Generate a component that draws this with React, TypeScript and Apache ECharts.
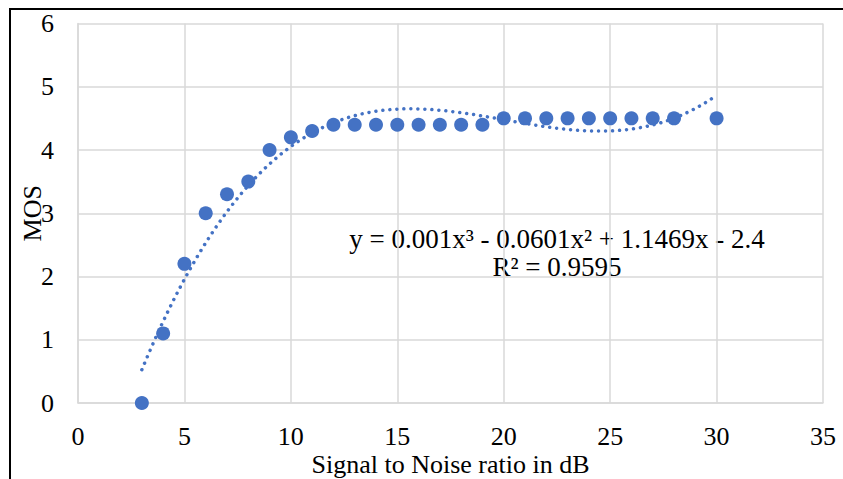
import React, { useEffect, useRef } from "react";
import * as echarts from "echarts";

const snrDb = [3, 4, 5, 6, 7, 8, 9, 10, 11, 12, 13, 14, 15, 16, 17, 18, 19, 20, 21, 22, 23, 24, 25, 26, 27, 28, 30];
const mos = [0, 1.1, 2.2, 3.0, 3.3, 3.5, 4.0, 4.2, 4.3, 4.4, 4.4, 4.4, 4.4, 4.4, 4.4, 4.4, 4.4, 4.5, 4.5, 4.5, 4.5, 4.5, 4.5, 4.5, 4.5, 4.5, 4.5];
const equationText = "y = 0.001x³ - 0.0601x² + 1.1469x - 2.4";
const r2Text = "R² = 0.9595";
const xAxisTitle = "Signal to Noise ratio in dB";
const yAxisTitle = "MOS";

// least squares cubic fit (the chart's trendline), computed from the data
function polyFit(xs: number[], ys: number[], deg: number): number[] {
  const n = deg + 1;
  const A: number[][] = Array.from({ length: n }, () => new Array(n + 1).fill(0));
  for (let i = 0; i < xs.length; i++) {
    for (let r = 0; r < n; r++) {
      for (let c = 0; c < n; c++) A[r][c] += Math.pow(xs[i], r + c);
      A[r][n] += ys[i] * Math.pow(xs[i], r);
    }
  }
  for (let p = 0; p < n; p++) {
    let m = p;
    for (let r = p + 1; r < n; r++) if (Math.abs(A[r][p]) > Math.abs(A[m][p])) m = r;
    [A[p], A[m]] = [A[m], A[p]];
    for (let r = 0; r < n; r++) {
      if (r === p) continue;
      const f = A[r][p] / A[p][p];
      for (let c = p; c <= n; c++) A[r][c] -= f * A[p][c];
    }
  }
  return A.map((row, i) => row[n] / row[i]);
}

export default function App() {
  const ref = useRef<HTMLDivElement>(null);
  useEffect(() => {
    if (!ref.current) return;
    const chart = echarts.init(ref.current, null, { renderer: "svg" });
    const coef = polyFit(snrDb, mos, 3);
    const xMin = snrDb[0];
    const xMax = snrDb[snrDb.length - 1];
    const trend: number[][] = [];
    const steps = 270;
    for (let i = 0; i <= steps; i++) {
      const x = xMin + ((xMax - xMin) * i) / steps;
      const y = coef[0] + coef[1] * x + coef[2] * x * x + coef[3] * x * x * x;
      trend.push([x, y]);
    }
    const font = "Liberation Serif";
    const fs = 26;
    const eqFs = 27;
    chart.setOption({
      animation: false,
      backgroundColor: "#ffffff",
      textStyle: { fontFamily: font },
      grid: { left: 78, right: 20, top: 23.5, bottom: 76, containLabel: false, outerBoundsMode: "none" },
      xAxis: {
        type: "value",
        min: 0,
        max: 35,
        interval: 5,
        name: xAxisTitle,
        nameLocation: "middle",
        nameGap: 48,
        nameMoveOverlap: false,
        nameTextStyle: { fontFamily: font, fontSize: fs, lineHeight: 26, color: "#000" },
        axisLine: { show: true, lineStyle: { color: "#d9d9d9", width: 1.5 } },
        axisTick: { show: false },
        axisLabel: { fontFamily: font, fontSize: fs, color: "#000", margin: 20 },
        splitLine: { show: true, lineStyle: { color: "#d9d9d9", width: 1.5 } },
      },
      yAxis: {
        type: "value",
        min: 0,
        max: 6,
        interval: 1,
        name: yAxisTitle,
        nameLocation: "middle",
        nameGap: 33,
        nameRotate: 90,
        nameMoveOverlap: false,
        nameTextStyle: { fontFamily: font, fontSize: fs, color: "#000" },
        axisLine: { show: true, lineStyle: { color: "#d9d9d9", width: 1.5 } },
        axisTick: { show: false },
        axisLabel: { fontFamily: font, fontSize: fs, color: "#000", margin: 24 },
        splitLine: { show: true, lineStyle: { color: "#d9d9d9", width: 1.5 } },
      },
      series: [
        {
          type: "scatter",
          data: snrDb.map((x, i) => [x, mos[i]]),
          symbol: "circle",
          symbolSize: 14,
          itemStyle: { color: "#4472C4", opacity: 1 },
          z: 2,
        },
        {
          type: "line",
          data: trend,
          showSymbol: false,
          smooth: false,
          lineStyle: { color: "#4472C4", width: 3.5, type: [0.01, 7], cap: "round" },
          z: 3,
        },
      ],
      graphic: [
        { type: "line", shape: { x1: 9, y1: 9, x2: 843, y2: 9 }, style: { stroke: "#000", lineWidth: 2 } },
        { type: "line", shape: { x1: 10, y1: 8, x2: 10, y2: 479 }, style: { stroke: "#000", lineWidth: 2 } },
        {
          type: "text",
          x: 557,
          y: 239,
          style: { text: equationText, font: `${eqFs}px '${font}'`, fill: "#000", textAlign: "center", textVerticalAlign: "middle" },
        },
        {
          type: "text",
          x: 557,
          y: 267,
          style: { text: r2Text, font: `${eqFs}px '${font}'`, fill: "#000", textAlign: "center", textVerticalAlign: "middle" },
        },
      ],
    });
    return () => chart.dispose();
  }, []);
  return <div ref={ref} style={{ width: 843, height: 479, position: "absolute", left: 0, top: 0 }} />;
}
